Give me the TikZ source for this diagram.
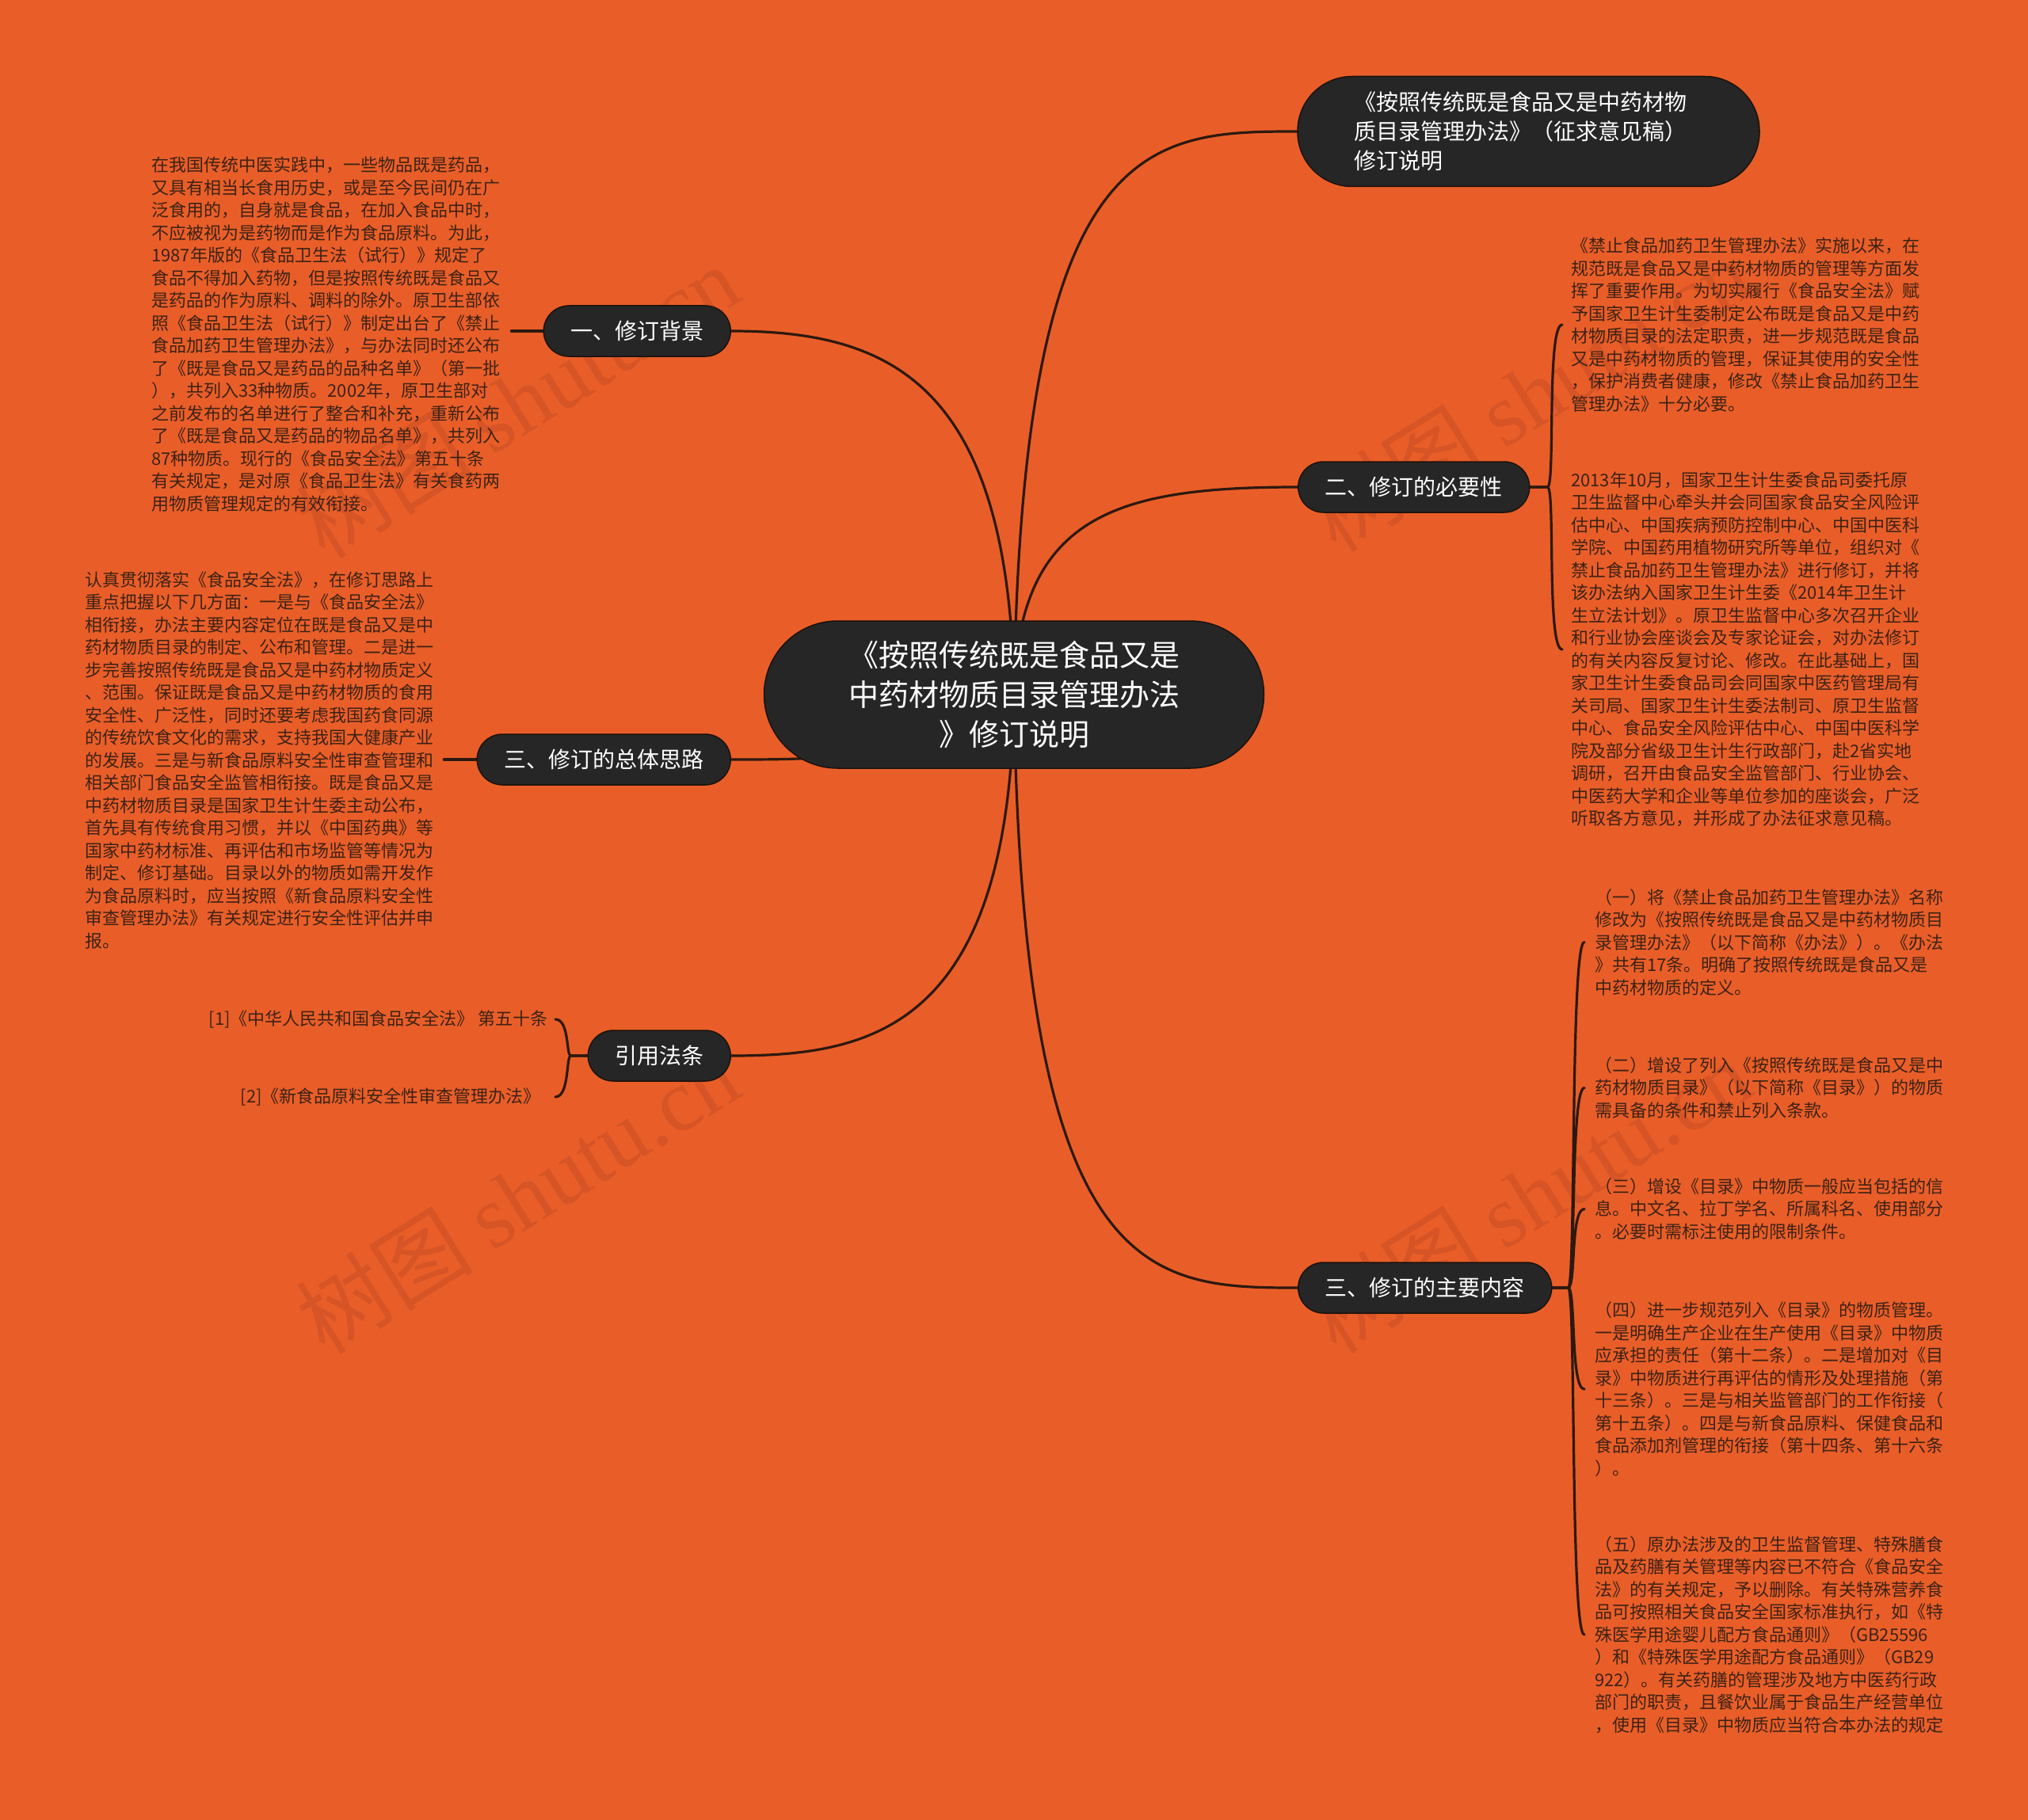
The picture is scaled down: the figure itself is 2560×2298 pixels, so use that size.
\documentclass[tikz,border=0pt]{standalone}
\usepackage{fontspec}
\setmainfont{Noto Sans CJK SC}
\newfontfamily\wmlatin{Liberation Serif}
\usetikzlibrary{backgrounds}
\definecolor{bgc}{RGB}{233,94,40}
\definecolor{nodec}{RGB}{38,38,38}
\definecolor{edgec}{RGB}{28,18,12}
\definecolor{linec}{RGB}{45,25,15}
\definecolor{txtc}{RGB}{60,34,22}
\definecolor{wmc}{RGB}{214,84,38}
\begin{document}
\begin{tikzpicture}[x=1pt,y=-1pt,
  rootbox/.style={rectangle, rounded corners=93pt, fill=nodec, draw=edgec, line width=1.5pt,
    text=white, align=center, font=\fontsize{38}{50}\selectfont,
    minimum width=631pt, minimum height=186pt, inner sep=0pt},
  draftbox/.style={rectangle, rounded corners=69pt, fill=nodec, draw=edgec, line width=1.5pt,
    text=white, align=left, font=\fontsize{28}{37}\selectfont,
    minimum width=583pt, minimum height=139pt, text width=440pt, inner sep=0pt},
  topicbox/.style={rectangle, rounded corners=32pt, fill=nodec, draw=edgec, line width=1.5pt,
    text=white, font=\fontsize{28}{34}\selectfont, minimum height=64pt,
    inner xsep=34pt, inner ysep=0pt},
  detail/.style={text=txtc, font=\fontsize{22}{28.5}\selectfont, align=left, inner sep=0pt},
  link/.style={draw=linec, line width=3.2pt, line cap=round},
  wm/.style={text=wmc, rotate=32, font=\fontsize{112}{112}\selectfont, inner sep=0pt}]

\useasboundingbox (0,0) rectangle (2560,2298);

% ---------- nodes ----------
\node[rootbox] (root) at (1280,877) {《按照传统既是食品又是\\中药材物质目录管理办法\\》修订说明};

\node[draftbox] (draft) at (1929.5,166) {《按照传统既是食品又是中药材物\\质目录管理办法》（征求意见稿）\\修订说明};

\node[topicbox, anchor=east] (bg) at (923,418) {一、修订背景};
\node[topicbox, anchor=west] (need) at (1638,615) {二、修订的必要性};
\node[topicbox, anchor=east] (idea) at (923,959) {三、修订的总体思路};
\node[topicbox, anchor=east] (cite) at (923,1333) {引用法条};
\node[topicbox, anchor=west] (main) at (1638,1626) {三、修订的主要内容};

\node[detail, anchor=west] (t1) at (191,422) {在我国传统中医实践中，一些物品既是药品，\\又具有相当长食用历史，或是至今民间仍在广\\泛食用的，自身就是食品，在加入食品中时，\\不应被视为是药物而是作为食品原料。为此，\\1987年版的《食品卫生法（试行）》规定了\\食品不得加入药物，但是按照传统既是食品又\\是药品的作为原料、调料的除外。原卫生部依\\照《食品卫生法（试行）》制定出台了《禁止\\食品加药卫生管理办法》，与办法同时还公布\\了《既是食品又是药品的品种名单》（第一批\\），共列入33种物质。2002年，原卫生部对\\之前发布的名单进行了整合和补充，重新公布\\了《既是食品又是药品的物品名单》，共列入\\87种物质。现行的《食品安全法》第五十条\\有关规定，是对原《食品卫生法》有关食药两\\用物质管理规定的有效衔接。};

\node[detail, anchor=west] (t2) at (107,960) {认真贯彻落实《食品安全法》，在修订思路上\\重点把握以下几方面：一是与《食品安全法》\\相衔接，办法主要内容定位在既是食品又是中\\药材物质目录的制定、公布和管理。二是进一\\步完善按照传统既是食品又是中药材物质定义\\、范围。保证既是食品又是中药材物质的食用\\安全性、广泛性，同时还要考虑我国药食同源\\的传统饮食文化的需求，支持我国大健康产业\\的发展。三是与新食品原料安全性审查管理和\\相关部门食品安全监管相衔接。既是食品又是\\中药材物质目录是国家卫生计生委主动公布，\\首先具有传统食用习惯，并以《中国药典》等\\国家中药材标准、再评估和市场监管等情况为\\制定、修订基础。目录以外的物质如需开发作\\为食品原料时，应当按照《新食品原料安全性\\审查管理办法》有关规定进行安全性评估并申\\报。};

\node[detail, anchor=west] (r1) at (1983,410) {《禁止食品加药卫生管理办法》实施以来，在\\规范既是食品又是中药材物质的管理等方面发\\挥了重要作用。为切实履行《食品安全法》赋\\予国家卫生计生委制定公布既是食品又是中药\\材物质目录的法定职责，进一步规范既是食品\\又是中药材物质的管理，保证其使用的安全性\\，保护消费者健康，修改《禁止食品加药卫生\\管理办法》十分必要。};

\node[detail, anchor=west] (r2) at (1983,820) {2013年10月，国家卫生计生委食品司委托原\\卫生监督中心牵头并会同国家食品安全风险评\\估中心、中国疾病预防控制中心、中国中医科\\学院、中国药用植物研究所等单位，组织对《\\禁止食品加药卫生管理办法》进行修订，并将\\该办法纳入国家卫生计生委《2014年卫生计\\生立法计划》。原卫生监督中心多次召开企业\\和行业协会座谈会及专家论证会，对办法修订\\的有关内容反复讨论、修改。在此基础上，国\\家卫生计生委食品司会同国家中医药管理局有\\关司局、国家卫生计生委法制司、原卫生监督\\中心、食品安全风险评估中心、中国中医科学\\院及部分省级卫生计生行政部门，赴2省实地\\调研，召开由食品安全监管部门、行业协会、\\中医药大学和企业等单位参加的座谈会，广泛\\听取各方意见，并形成了办法征求意见稿。};

\node[detail, anchor=west] (b1) at (2013,1189.5) {（一）将《禁止食品加药卫生管理办法》名称\\修改为《按照传统既是食品又是中药材物质目\\录管理办法》（以下简称《办法》）。《办法\\》共有17条。明确了按照传统既是食品又是\\中药材物质的定义。};

\node[detail, anchor=west] (b2) at (2013,1373.5) {（二）增设了列入《按照传统既是食品又是中\\药材物质目录》（以下简称《目录》）的物质\\需具备的条件和禁止列入条款。};

\node[detail, anchor=west] (b3) at (2013,1526.5) {（三）增设《目录》中物质一般应当包括的信\\息。中文名、拉丁学名、所属科名、使用部分\\。必要时需标注使用的限制条件。};

\node[detail, anchor=west] (b4) at (2013,1754) {（四）进一步规范列入《目录》的物质管理。\\一是明确生产企业在生产使用《目录》中物质\\应承担的责任（第十二条）。二是增加对《目\\录》中物质进行再评估的情形及处理措施（第\\十三条）。三是与相关监管部门的工作衔接（\\第十五条）。四是与新食品原料、保健食品和\\食品添加剂管理的衔接（第十四条、第十六条\\）。};

\node[detail, anchor=west] (b5) at (2013,2064) {（五）原办法涉及的卫生监督管理、特殊膳食\\品及药膳有关管理等内容已不符合《食品安全\\法》的有关规定，予以删除。有关特殊营养食\\品可按照相关食品安全国家标准执行，如《特\\殊医学用途婴儿配方食品通则》（GB25596\\）和《特殊医学用途配方食品通则》（GB29\\922）。有关药膳的管理涉及地方中医药行政\\部门的职责，且餐饮业属于食品生产经营单位\\，使用《目录》中物质应当符合本办法的规定};

\node[detail, anchor=east] (c1) at (692,1287) {[1]《中华人民共和国食品安全法》 第五十条};
\node[detail, anchor=east] (c2) at (683,1385) {[2]《新食品原料安全性审查管理办法》};

% ---------- background, watermarks, connectors ----------
\begin{pgfonlayer}{background}
  \fill[bgc] (0,0) rectangle (2560,2298);
  \node[wm] (wm1) at (653,506) {树图 {\wmlatin shutu.cn}};
  \node[wm] (wm2) at (653,1511) {树图 {\wmlatin shutu.cn}};
  \node[wm] (wm3) at (1930,498) {树图 {\wmlatin shutu.cn}};
  \node[wm] (wm4) at (1930,1510) {树图 {\wmlatin shutu.cn}};

  \draw[link] (root.center) .. controls (1275,480) and (1120,418) .. (bg.east);
  \draw[link] (root.center) .. controls (1290,170) and (1450,166) .. (draft.west);
  \draw[link] (root.center) .. controls (1285,650) and (1410,615) .. (need.west);
  \draw[link] (root.center) .. controls (1150,959) and (1050,959) .. (idea.east);
  \draw[link] (root.center) .. controls (1275,1300) and (1100,1333) .. (cite.east);
  \draw[link] (root.center) .. controls (1290,1620) and (1450,1626) .. (main.west);

  \draw[link] (bg.west) -- ([xshift=14pt]bg.west -| t1.east);
  \draw[link] (idea.west) -- ([xshift=13pt]idea.west -| t2.east);

  \draw[link] (need.east) -- ++(22,0) .. controls +(10,0) and +(-20,0) .. ([xshift=-11pt]r1.west);
  \draw[link] (need.east) -- ++(22,0) .. controls +(10,0) and +(-20,0) .. ([xshift=-11pt]r2.west);

  \draw[link] (main.east) -- ++(20,0) .. controls +(10,0) and +(-18,0) .. ([xshift=-13pt]b1.west);
  \draw[link] (main.east) -- ++(20,0) .. controls +(10,0) and +(-18,0) .. ([xshift=-13pt]b2.west);
  \draw[link] (main.east) -- ++(20,0) .. controls +(10,0) and +(-18,0) .. ([xshift=-13pt]b3.west);
  \draw[link] (main.east) -- ++(20,0) .. controls +(10,0) and +(-18,0) .. ([xshift=-13pt]b4.west);
  \draw[link] (main.east) -- ++(20,0) .. controls +(10,0) and +(-18,0) .. ([xshift=-13pt]b5.west);

  \draw[link] (cite.west) -- ++(-21,0) .. controls +(-6,0) and +(18,0) .. ([xshift=9pt]c1.east);
  \draw[link] (cite.west) -- ++(-21,0) .. controls +(-6,0) and +(18,0) .. ([xshift=18pt]c2.east);
\end{pgfonlayer}
\end{tikzpicture}
\end{document}
